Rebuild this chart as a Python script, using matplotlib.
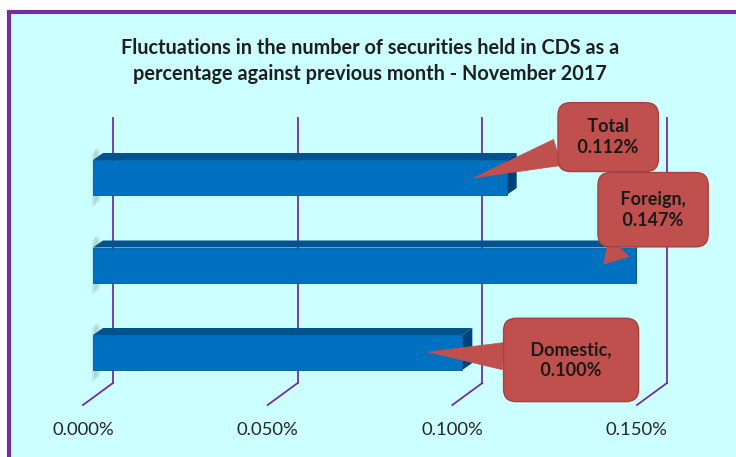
import matplotlib
matplotlib.use("Agg")
import matplotlib.pyplot as plt
from matplotlib.patches import Rectangle, Polygon

# data
categories = ["Domestic", "Foreign", "Total"]
values = [0.100, 0.147, 0.112]
callout_names = ["Domestic,", "Foreign,", "Total"]
tick_values = [0.000, 0.050, 0.100, 0.150]
tick_labels = ["0.000%", "0.050%", "0.100%", "0.150%"]
title = ("Fluctuations in the number of securities held in CDS as a\n"
         "percentage against previous month - November 2017")

plt.rcParams["font.family"] = ["Lato", "DejaVu Sans"]

W, H = 736, 457
fig = plt.figure(figsize=(W / 100, H / 100), dpi=100)
fig.patch.set_facecolor("white")

# chart area with purple frame
frame = Rectangle((8.5 / W, -0.1), 1.2, (H - 12) / H + 0.1, transform=fig.transFigure,
                  fc="#CCFFFF", ec="#7030A0", lw=3.0, zorder=-2)
fig.add_artist(frame)

fig.text(0.503, 0.867, title, ha="center", va="center", fontsize=14.3,
         fontweight="bold", color="#1f1f1f", linespacing=1.35)

ax_l, ax_b, ax_w, ax_h = 83, 52, 554, 265
ax = fig.add_axes([ax_l / W, ax_b / H, ax_w / W, ax_h / H])
ax.set_facecolor("none")
for s in ax.spines.values():
    s.set_visible(False)

xmax = 0.15
ylo = -0.52
yhi = ylo + ax_h / 87.5
px_x = ax_w / xmax      # pixels per data unit (x)
px_y = ax_h / (yhi - ylo)  # pixels per data unit (y)

# 3d offsets
gx, gy = 30 / px_x, 22 / px_y   # back wall
ox, oy = 10 / px_x, 7 / px_y    # bar front face
dx, dy = 10 / px_x, 7 / px_y    # bar depth
bh = 0.4
ypos = list(range(len(categories)))

# gridlines on back wall + floor diagonals
for t in tick_values:
    ax.plot([t + gx, t + gx], [ylo + gy, yhi + gy], color="#7030A0", lw=1.3,
            clip_on=False, zorder=1)
    ax.plot([t, t + gx], [ylo, ylo + gy], color="#7030A0", lw=1.3,
            clip_on=False, zorder=1)

# bars
for y, v in zip(ypos, values):
    yc = y + oy
    top = yc + bh / 2
    bot = yc - bh / 2
    # soft shadow behind the left end
    for k, a in [(0, 0.25), (2, 0.25)]:
        ax.add_patch(Polygon([(ox - (1 - k) / px_x, bot - (12 - k) / px_y),
                              (ox + (7 - k) / px_x, bot - (6 - k) / px_y),
                              (ox + (7 - k) / px_x, top + (9 - k) / px_y),
                              (ox + (4 - k) / px_x, top + (12 - k) / px_y),
                              (ox - (1 - k) / px_x, top + (6 - k) / px_y)],
                             closed=True, fc="#8FA8A8", ec="none", alpha=a, zorder=2))
    ax.add_patch(Polygon([(ox, top), (ox + v, top), (ox + v + dx, top + dy), (ox + dx, top + dy)],
                         closed=True, fc="#00538F", ec="none", zorder=3))
    ax.add_patch(Polygon([(ox + v, bot), (ox + v, top), (ox + v + dx, top + dy), (ox + v + dx, bot + dy)],
                         closed=True, fc="#00427A", ec="none", zorder=3))
ax.barh([y + oy for y in ypos], values, left=ox, height=bh, color="#0070C0",
        edgecolor="#005A9A", linewidth=0.6, zorder=4)

# callouts
tips = [(0.0934, 0.086), (0.141, 1.09), (0.1056, 2.074)]
boxes = [(0.881, 0.170), (1.029, 0.737), (0.948, 1.011)]
pads = [1.25, 1.0, 0.85]
for name, v, tip, box, pad in zip(callout_names, values, tips, boxes, pads):
    ax.annotate(f" {name} \n {v:.3f}% ", xy=tip, xycoords="data", xytext=box,
                textcoords="axes fraction", ha="center", va="center",
                multialignment="center", fontsize=13, fontweight="bold",
                color="#1a1a1a", linespacing=1.3, zorder=6, annotation_clip=False,
                bbox=dict(boxstyle=f"round,pad={pad},rounding_size=0.7",
                          fc="#C0504D", ec="#A8413E", lw=1),
                arrowprops=dict(arrowstyle="wedge,tail_width=1.5,shrink_factor=0.5",
                                fc="#C0504D", ec="#C0504D", lw=0.5,
                                shrinkA=0, shrinkB=0))

ax.set_xlim(0, xmax)
ax.set_ylim(ylo, yhi)
ax.set_yticks([])
ax.set_xticks(tick_values)
ax.set_xticklabels(tick_labels, fontsize=13.3, color="#262626")
ax.tick_params(axis="x", length=0, pad=12)

fig.savefig("out.png", dpi=100)
